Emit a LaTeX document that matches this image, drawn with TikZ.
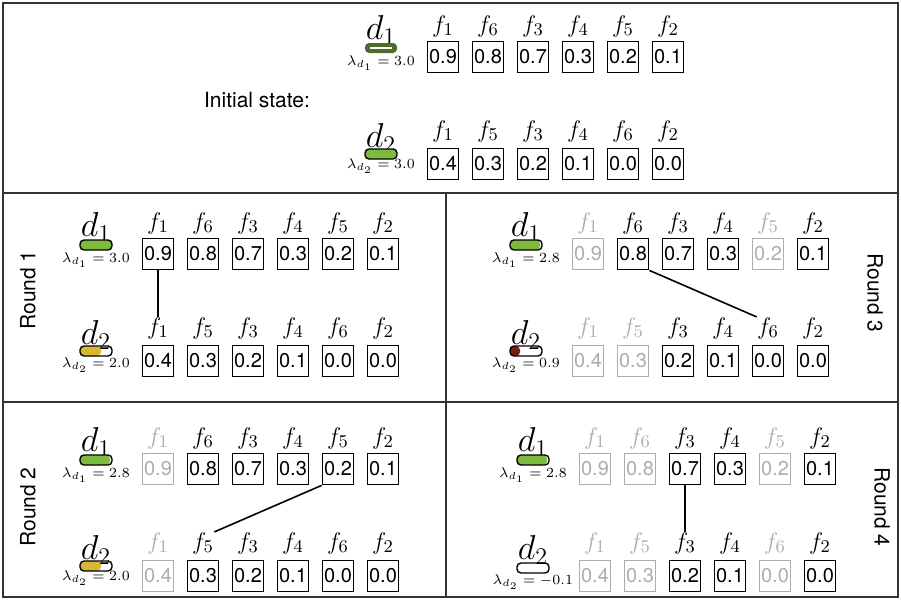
\documentclass[tikz,border=0pt]{standalone}
\usepackage[no-math]{fontspec}
\setsansfont{TeX Gyre Heros}

\definecolor{budgetdark}{HTML}{4E6B2B}
\definecolor{budgetgreen}{HTML}{7DBB3C}
\definecolor{budgetyellow}{HTML}{D9B733}
\definecolor{budgetred}{HTML}{7A1C14}

\tikzset{
  frame/.style={line width=1.2pt, black!80},
  val/.style={draw, line width=0.9pt, minimum width=15.5pt, minimum height=15.5pt, inner sep=0.5pt, font=\sffamily\fontsize{10}{12}\selectfont},
  flab/.style={font=\fontsize{13}{14}\selectfont},
  dlab/.style={font=\LARGE},
  lam/.style={font=\scriptsize},
  bar/.style={line width=0.7pt, rounded corners=2pt},
  roundtxt/.style={font=\sffamily\fontsize{10.5}{12}\selectfont},
  kept/.style={black},
  gone/.style={black!32},
  link/.style={line width=0.8pt},
}

\begin{document}
\begin{tikzpicture}[x=0.5pt, y=-0.5pt, every node/.style={inner sep=0pt}]
  \useasboundingbox (0,0) rectangle (901,600);

  % Frame
  \draw[frame] (3,3) rectangle (898,597);
  \draw[frame] (3,193) -- (898,193);
  \draw[frame] (3,402) -- (898,402);
  \draw[frame] (446,193) -- (446,597);

  % Initial state
  \node[roundtxt] (init) at (257,100) {Initial state:};
  \begin{scope}[shift={(381,30)}]
    \node[dlab] (i-d1) at (0,0) {$d_1$};
    \fill[budgetdark, rounded corners=2pt] (-16,13) rectangle (16,23);
    \draw[white, line width=1.2pt] (-11,18) -- (11,18);
    \node[lam] (i-l1) at (0,33) {$\lambda_{d_1} = 3.0$};
    \foreach \f/\v/\s [count=\i] in {1/0.9/kept,6/0.8/kept,3/0.7/kept,4/0.3/kept,5/0.2/kept,2/0.1/kept} {
      \node[flab,\s] (ial\i) at ({62+45*(\i-1)},-4) {$f_{\f}$};
      \node[val,\s] (ia\i) at ({62+45*(\i-1)},27) {\v};
    }
    \node[dlab] (i-d2) at (0,108) {$d_2$};
    \fill[budgetgreen, rounded corners=2pt] (-16,119) rectangle (16,129);
    \draw[bar] (-16,119) rectangle (16,129);
    \node[lam] (i-l2) at (0,136) {$\lambda_{d_2} = 3.0$};
    \foreach \f/\v/\s [count=\i] in {1/0.4/kept,5/0.3/kept,3/0.2/kept,4/0.1/kept,6/0.0/kept,2/0.0/kept} {
      \node[flab,\s] (ibl\i) at ({62+45*(\i-1)},101) {$f_{\f}$};
      \node[val,\s] (ib\i) at ({62+45*(\i-1)},134) {\v};
    }
  \end{scope}

  % Round 1
  \node[roundtxt, rotate=90] (rnd1) at (28,290) {Round 1};
  \begin{scope}[shift={(96,227)}]
    \node[dlab] (r1-d1) at (0,0) {$d_1$};
    \fill[budgetgreen, rounded corners=2pt] (-16,13) rectangle (16,23);
    \draw[bar] (-16,13) rectangle (16,23);
    \node[lam] (r1-l1) at (0,33) {$\lambda_{d_1} = 3.0$};
    \foreach \f/\v/\s [count=\i] in {1/0.9/kept,6/0.8/kept,3/0.7/kept,4/0.3/kept,5/0.2/kept,2/0.1/kept} {
      \node[flab,\s] (r1al\i) at ({62+45*(\i-1)},-4) {$f_{\f}$};
      \node[val,\s] (r1a\i) at ({62+45*(\i-1)},27) {\v};
    }
    \node[dlab] (r1-d2) at (0,108) {$d_2$};
    \fill[budgetyellow, rounded corners=2pt] (-16,119) rectangle (5,129);
    \draw[bar] (-16,119) rectangle (16,129);
    \node[lam] (r1-l2) at (0,138) {$\lambda_{d_2} = 2.0$};
    \foreach \f/\v/\s [count=\i] in {1/0.4/kept,5/0.3/kept,3/0.2/kept,4/0.1/kept,6/0.0/kept,2/0.0/kept} {
      \node[flab,\s] (r1bl\i) at ({62+45*(\i-1)},101) {$f_{\f}$};
      \node[val,\s] (r1b\i) at ({62+45*(\i-1)},134) {\v};
    }
  \end{scope}
  \draw[link] (r1a1.south) -- (r1bl1.north);

  % Round 3
  \node[roundtxt, rotate=-90] (rnd3) at (875,293) {Round 3};
  \begin{scope}[shift={(526,227)}]
    \node[dlab] (r3-d1) at (0,0) {$d_1$};
    \fill[budgetgreen, rounded corners=2pt] (-16,13) rectangle (14,23);
    \draw[bar] (-16,13) rectangle (16,23);
    \node[lam] (r3-l1) at (0,33) {$\lambda_{d_1} = 2.8$};
    \foreach \f/\v/\s [count=\i] in {1/0.9/gone,6/0.8/kept,3/0.7/kept,4/0.3/kept,5/0.2/gone,2/0.1/kept} {
      \node[flab,\s] (r3al\i) at ({62+45*(\i-1)},-4) {$f_{\f}$};
      \node[val,\s] (r3a\i) at ({62+45*(\i-1)},27) {\v};
    }
    \node[dlab] (r3-d2) at (0,108) {$d_2$};
    \fill[budgetred, rounded corners=2pt] (-16,119) rectangle (-6,129);
    \draw[bar] (-16,119) rectangle (16,129);
    \node[lam] (r3-l2) at (0,138) {$\lambda_{d_2} = 0.9$};
    \foreach \f/\v/\s [count=\i] in {1/0.4/gone,5/0.3/gone,3/0.2/kept,4/0.1/kept,6/0.0/kept,2/0.0/kept} {
      \node[flab,\s] (r3bl\i) at ({62+45*(\i-1)},101) {$f_{\f}$};
      \node[val,\s] (r3b\i) at ({62+45*(\i-1)},134) {\v};
    }
  \end{scope}
  \draw[link] (r3a2.south east) -- (r3bl5.north west);

  % Round 2
  \node[roundtxt, rotate=90] (rnd2) at (28,507) {Round 2};
  \begin{scope}[shift={(96,442)}]
    \node[dlab] (r2-d1) at (0,0) {$d_1$};
    \fill[budgetgreen, rounded corners=2pt] (-16,13) rectangle (14,23);
    \draw[bar] (-16,13) rectangle (16,23);
    \node[lam] (r2-l1) at (0,33) {$\lambda_{d_1} = 2.8$};
    \foreach \f/\v/\s [count=\i] in {1/0.9/gone,6/0.8/kept,3/0.7/kept,4/0.3/kept,5/0.2/kept,2/0.1/kept} {
      \node[flab,\s] (r2al\i) at ({62+45*(\i-1)},-4) {$f_{\f}$};
      \node[val,\s] (r2a\i) at ({62+45*(\i-1)},27) {\v};
    }
    \node[dlab] (r2-d2) at (0,108) {$d_2$};
    \fill[budgetyellow, rounded corners=2pt] (-16,119) rectangle (5,129);
    \draw[bar] (-16,119) rectangle (16,129);
    \node[lam] (r2-l2) at (0,136) {$\lambda_{d_2} = 2.0$};
    \foreach \f/\v/\s [count=\i] in {1/0.4/gone,5/0.3/kept,3/0.2/kept,4/0.1/kept,6/0.0/kept,2/0.0/kept} {
      \node[flab,\s] (r2bl\i) at ({62+45*(\i-1)},101) {$f_{\f}$};
      \node[val,\s] (r2b\i) at ({62+45*(\i-1)},134) {\v};
    }
  \end{scope}
  \draw[link] (r2a5.south west) -- (r2bl2.north east);

  % Round 4
  \node[roundtxt, rotate=-90] (rnd4) at (882,507) {Round 4};
  \begin{scope}[shift={(533,442)}]
    \node[dlab] (r4-d1) at (0,0) {$d_1$};
    \fill[budgetgreen, rounded corners=2pt] (-16,13) rectangle (14,23);
    \draw[bar] (-16,13) rectangle (16,23);
    \node[lam] (r4-l1) at (0,33) {$\lambda_{d_1} = 2.8$};
    \foreach \f/\v/\s [count=\i] in {1/0.9/gone,6/0.8/gone,3/0.7/kept,4/0.3/kept,5/0.2/gone,2/0.1/kept} {
      \node[flab,\s] (r4al\i) at ({62+45*(\i-1)},-4) {$f_{\f}$};
      \node[val,\s] (r4a\i) at ({62+45*(\i-1)},27) {\v};
    }
    \node[dlab] (r4-d2) at (0,108) {$d_2$};
    \draw[bar] (-16,121) rectangle (16,131);
    \node[lam] (r4-l2) at (0,140) {$\lambda_{d_2} = -0.1$};
    \foreach \f/\v/\s [count=\i] in {1/0.4/gone,5/0.3/gone,3/0.2/kept,4/0.1/kept,6/0.0/gone,2/0.0/kept} {
      \node[flab,\s] (r4bl\i) at ({62+45*(\i-1)},101) {$f_{\f}$};
      \node[val,\s] (r4b\i) at ({62+45*(\i-1)},134) {\v};
    }
  \end{scope}
  \draw[link] (r4a3.south) -- (r4bl3.north);

\end{tikzpicture}
\end{document}
